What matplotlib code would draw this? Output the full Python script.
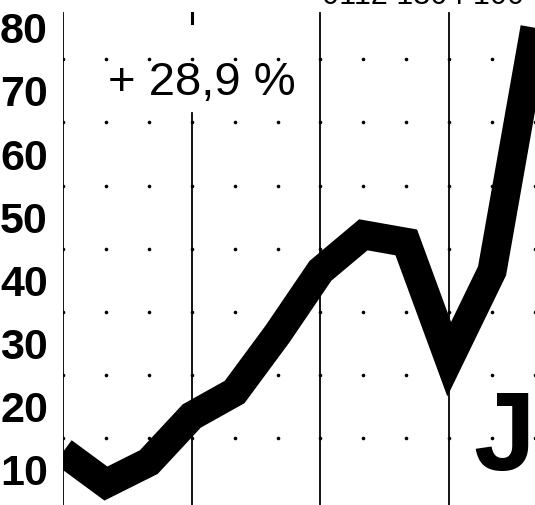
import matplotlib.pyplot as plt

# Werte (Monatsraster, 0 = erste senkrechte Linie)
monate = list(range(12))
werte = [12.8, 7.8, 11.2, 18.5, 22.3, 31.5, 41.5, 47.2, 46.0, 27.5, 41.5, 80.0]
y_ticks = [10, 20, 30, 40, 50, 60, 70, 80]
punkt_reihen = [15, 25, 35, 45, 55, 65, 75]
trennlinien = [0, 3, 6, 9]

schrift = ['Liberation Sans', 'DejaVu Sans']

fig = plt.figure(figsize=(5.35, 5.05), dpi=100)
ax = fig.add_axes([63 / 535, 0, 472 / 535, 1])
ax.set_xlim(0, 11)
ax.set_ylim(4.4, 84.4)

# Punktraster
for x in range(12):
    for y in punkt_reihen:
        ax.plot(x, y, 'o', color='black', ms=2.6, mew=0, zorder=2)

# senkrechte Linien
for x in trennlinien:
    oben = 82.4 if x != 3 else 66.5
    ax.plot([x, x], [0, oben], color='black', lw=1.3, zorder=2)
ax.plot([3, 3], [80.7, 82.3], color='black', lw=2.2)

# die dicke Kurve
ax.plot(monate, werte, color='black', lw=21, solid_joinstyle='miter',
        solid_capstyle='butt', zorder=3)

ax.set_yticks(y_ticks)
ax.set_yticklabels([str(v) for v in y_ticks], family=schrift,
                   fontsize=31, fontweight='bold')
ax.tick_params(axis='y', length=0, pad=0)
ax.set_xticks([])
for s in ax.spines.values():
    s.set_visible(False)
for lab in ax.get_yticklabels():
    lab.set_horizontalalignment('left')
    lab.set_x(-63 / 472)

fig.text(108 / 535, 1 - 95 / 505, '+ 28,9 %', fontsize=34,
         family=schrift, va='baseline')
fig.text(473 / 535, 1 - 470 / 505, 'J', fontsize=80, fontweight='bold',
         family=schrift, va='baseline')
fig.text(322 / 535, 1 - 4 / 505, '0112 1304 100', fontsize=22,
         family=schrift, va='baseline')

fig.savefig('out.png', dpi=100)
